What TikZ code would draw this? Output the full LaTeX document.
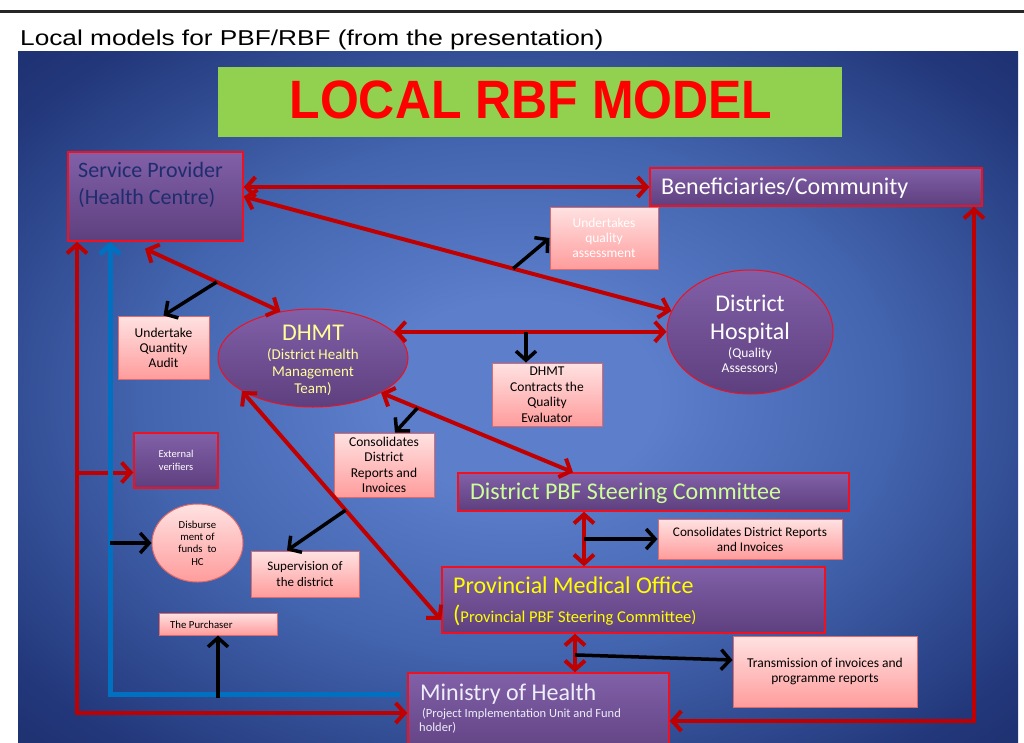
\documentclass[tikz,border=0pt]{standalone}
\usepackage{fontspec}
\setmainfont{Carlito}
\newfontfamily\arialfont{Liberation Sans}
\newfontfamily\arialtall[FakeStretch=0.925]{Liberation Sans}
\newfontfamily\arialwide[FakeStretch=1.22]{Liberation Sans}
\usetikzlibrary{arrows.meta,shapes.geometric,calc}
\definecolor{bgin}{HTML}{5C7ECB}
\definecolor{bgmid}{HTML}{4263AD}
\definecolor{bgedge}{HTML}{22377A}
\definecolor{bgout}{HTML}{111E52}
\definecolor{titlegreen}{HTML}{92D050}
\definecolor{titlered}{HTML}{FF0000}
\definecolor{linered}{HTML}{C00000}
\definecolor{boxred}{HTML}{F01020}
\definecolor{purtop}{HTML}{8160A8}
\definecolor{purbot}{HTML}{5E3F7E}
\definecolor{pinktop}{HTML}{FFE2E2}
\definecolor{pinkbot}{HTML}{FF9C9C}
\definecolor{pinkedge}{HTML}{E06A6A}
\definecolor{lineblue}{HTML}{0070C0}
\definecolor{spnavy}{HTML}{1F2D6E}
\definecolor{paleyellow}{HTML}{FFFF99}
\definecolor{palegreen}{HTML}{CCFF99}
\definecolor{brightyellow}{HTML}{FFFF00}
\definecolor{lavwhite}{HTML}{EEEEFA}
\pgfdeclareradialshading{slidebg}{\pgfpoint{0bp}{0bp}}{color(0bp)=(bgin); color(7bp)=(bgin); color(19bp)=(bgmid); color(32bp)=(bgedge); color(48bp)=(bgout); color(60bp)=(bgout)}
\newcommand\fsz[2]{\fontsize{#1}{#2}\selectfont}
\begin{document}
\begin{tikzpicture}[x=1pt,y=-1pt,
  >={Straight Barb[length=9pt,width=20pt]},
  pbox/.style={rectangle, draw=boxred, line width=1.4pt, top color=purtop, bottom color=purbot, inner sep=0pt},
  pell/.style={ellipse, draw=boxred, line width=1pt, top color=purtop, bottom color=purbot, inner sep=0pt},
  kbox/.style={rectangle, draw=pinkedge, line width=1pt, top color=pinktop, bottom color=pinkbot, inner sep=0pt, align=center, text=black},
  kell/.style={ellipse, draw=pinkedge, line width=1pt, top color=pinktop, bottom color=pinkbot, inner sep=0pt},
  lbl/.style={inner sep=0pt, align=center},
  cbase/.style={inner sep=0pt, anchor=base, align=center},
  ltxt/.style={inner sep=0pt, anchor=base west, align=left},
  redarr/.style={draw=linered, line width=4pt, ->},
  redboth/.style={draw=linered, line width=4pt, <->},
  blkarr/.style={draw=black, line width=3.5pt, ->},
  bluarr/.style={draw=lineblue, line width=5pt, ->}]
\useasboundingbox (0,0) rectangle (1024,742);
\clip (0,0) rectangle (1024,742);
\fill[white] (0,0) rectangle (1024,742);
\draw[line width=3pt, black!85] (0,11) -- (1024,11);
\node[ltxt, font=\arialwide\fsz{21.5}{24}] (pagetitle) at (20,45) {Local models for PBF/RBF (from the presentation)};
\shade[shading=slidebg] (18,51) rectangle (1018,742);
\node[fill=titlegreen, minimum width=624pt, minimum height=70pt, inner sep=0pt] (titlebox) at (530,102) {};
\node[inner sep=0pt, anchor=base, font=\arialtall\bfseries\fsz{54}{54}, text=titlered] (titletext) at (531,118) {LOCAL RBF MODEL};

% purple boxes
\node[pbox, minimum width=175pt, minimum height=89pt] (sp) at (155.5,196.5) {};
\node[ltxt, font=\fsz{22}{27}, text=spnavy] (sptext) at (78,204) {Service Provider\\(Health Centre)};
\node[pbox, minimum width=332pt, minimum height=38pt] (ben) at (816,187) {};
\node[ltxt, font=\fsz{24}{28}, text=white] (bentext) at (661,194) {Beneficiaries/Community};
\node[pbox, minimum width=391pt, minimum height=38pt] (dpbf) at (653.5,492) {};
\node[ltxt, font=\fsz{24}{28}, text=palegreen] (dpbftext) at (470,499) {District PBF Steering Committee};
\node[pbox, minimum width=383pt, minimum height=66pt] (pmo) at (633.5,600) {};
\node[ltxt, font=\fsz{24}{28}, text=brightyellow] (pmotext1) at (453,593) {Provincial Medical Office};
\node[ltxt, font=\fsz{24}{28}, text=brightyellow] (pmotext2) at (453,622) {(\fsz{16.5}{20}Provincial PBF Steering Committee)};
\node[pbox, minimum width=261pt, minimum height=89pt] (moh) at (538.5,717.5) {};
\node[ltxt, font=\fsz{24}{28}, text=lavwhite] (mohtext1) at (420,700) {Ministry of Health};
\node[ltxt, font=\fsz{12.5}{14}, text=lavwhite] (mohtext2) at (419,731) {\hspace{3pt}(Project Implementation Unit and Fund\\holder)};
\node[pbox, minimum width=84pt, minimum height=55pt, font=\fsz{10.5}{13}, text=white, align=center] (ev) at (176,460.5) {External\\verifiers};

% ellipses
\node[pell, minimum width=190pt, minimum height=98pt] (dhmt) at (313,358) {};
\node[cbase, text=paleyellow, font=\fsz{24}{26}] (dhmttitle) at (313,340) {DHMT};
\node[cbase, text=paleyellow, font=\fsz{15}{17}] (dhmttext) at (313,393) {(District Health\\Management\\Team)};
\node[pell, minimum width=166pt, minimum height=124pt] (dh) at (750,332) {};
\node[cbase, text=white, font=\fsz{24}{28}] (dhtitle) at (750,339) {District\\Hospital};
\node[cbase, text=white, font=\fsz{13.5}{15}] (dhtext) at (750,372) {(Quality\\Assessors)};
\node[kell, minimum width=91pt, minimum height=78pt] (disb) at (197.5,543) {};
\node[lbl, font=\fsz{10.7}{12.3}] (disbtext) at (197.5,543) {Disburse\\ment of\\funds\ \ to\\HC};

% pink boxes
\node[kbox, minimum width=108pt, minimum height=62pt, text=white, font=\fsz{13.5}{15}] (uqass) at (604,238) {Undertakes\\quality\\assessment};
\node[kbox, minimum width=91pt, minimum height=63pt, font=\fsz{13.5}{15}] (uqa) at (163.5,347.5) {Undertake\\Quantity\\Audit};
\node[kbox, minimum width=110pt, minimum height=63pt, font=\fsz{13.5}{15.5}] (dcq) at (547,394.5) {DHMT\\Contracts the\\Quality\\Evaluator};
\node[kbox, minimum width=100pt, minimum height=64pt, font=\fsz{13.5}{15.5}] (cdr) at (384,465) {Consolidates\\District\\Reports and\\Invoices};
\node[kbox, minimum width=108pt, minimum height=46pt, font=\fsz{13}{16}] (sup) at (305,574) {Supervision of\\the district};
\node[kbox, minimum width=118pt, minimum height=22pt] (pur) at (218,624) {};
\node[ltxt, font=\fsz{10.8}{13}] (purtext) at (170,628) {The Purchaser};
\node[kbox, minimum width=184pt, minimum height=40pt, font=\fsz{13.2}{15}] (crr) at (750,539) {Consolidates District Reports\\and Invoices};
\node[kbox, minimum width=184pt, minimum height=71pt, font=\fsz{13.5}{15}] (trans) at (825,671.5) {Transmission of invoices and\\programme reports};

% coordinates
\coordinate (lb) at (77,713);
\coordinate (bc) at (110,694);
\coordinate (be) at (400,694);
\coordinate (pb) at (218,698);
\coordinate (rc) at (974,721);
\coordinate (c1) at (526,332);

% red connectors
\draw[redboth] (sp.east |- ben.west) -- (ben.west);
\draw[redboth] (sp.east) -- (dh.165);
\draw[redboth] ([shift={(-10.5,7)}]sp.south) coordinate (spd) -- (dhmt.125);
\draw[redboth] (dhmt.18) -- (dhmt.18 -| dh.west);
\draw[redboth] (dhmt.-27) -- ([xshift=-80.5pt]dpbf.north);
\draw[redboth] (dhmt.205) -- ([shift={(0,20)}]pmo.west);
\draw[redboth] ([xshift=-69.5pt]dpbf.south) coordinate (v1) -- (v1 |- pmo.north);
\draw[redboth] ([xshift=-58.5pt]pmo.south) coordinate (v2) -- (v2 |- moh.north);
\draw[redboth] (lb |- sp.south) -- (lb) -- (lb -| moh.west);
\draw[redarr] (lb |- ev.west) ++(0,12) -- ([shift={(0,12)}]ev.west);
\draw[redboth] (rc -| moh.east) -- (rc) -- (rc |- ben.south);

% blue connector
\draw[bluarr] (be) -- (bc) -- (bc |- sp.south);

% black connectors
\draw[blkarr] ($(spd)!0.53!(dhmt.125)$) -- (uqa.north);
\draw[blkarr] ($(sp.east)!0.63!(dh.165)$) -- (uqass.west);
\draw[blkarr] (c1) -- (c1 |- dcq.north);
\draw[blkarr] ($(dhmt.-27)!0.19!([xshift=-80.5pt]dpbf.north)$) -- ([xshift=11pt]cdr.north);
\draw[blkarr] ($(dhmt.205)!0.52!([shift={(0,20)}]pmo.west)$) -- ([xshift=-18pt]sup.north);
\draw[blkarr] (crr.west -| v1) -- (crr.west);
\draw[blkarr] ($(v2)!0.55!(v2 |- moh.north)$) -- ([shift={(0,-11.5)}]trans.west);
\draw[blkarr] (bc |- disb.west) -- (disb.west);
\draw[blkarr] (pb) -- (pur.south);
\end{tikzpicture}
\end{document}
